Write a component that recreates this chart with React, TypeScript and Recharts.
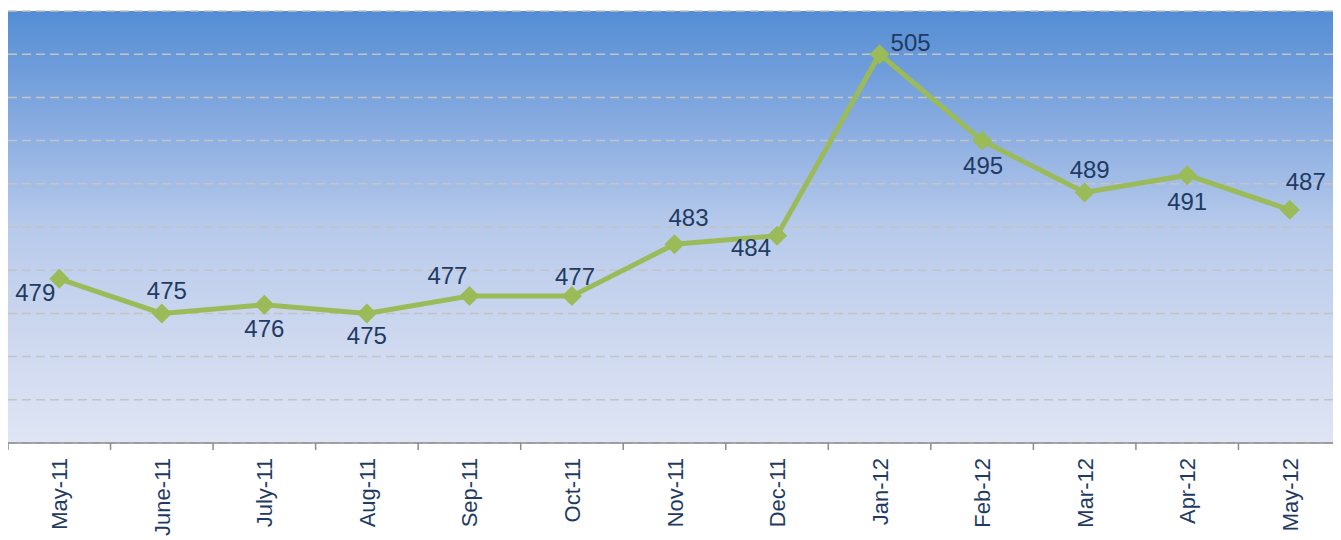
import React from "react";
import { LineChart, Line, XAxis, YAxis, CartesianGrid } from "recharts";

const months = [
  "May-11", "June-11", "July-11", "Aug-11", "Sep-11", "Oct-11", "Nov-11",
  "Dec-11", "Jan-12", "Feb-12", "Mar-12", "Apr-12", "May-12",
];
const values = [479, 475, 476, 475, 477, 477, 483, 484, 505, 495, 489, 491, 487];
const yTicks = [460, 465, 470, 475, 480, 485, 490, 495, 500, 505, 510];

// label nudges relative to each point (rendering config)
const labelDx = [-24, 5, 0, 0, -22, 3, 14, -26, 31, 1, 5, 0, 16];
const labelDy = [14, -23, 24, 22, -21, -20, -27, 12, -12, 25, -23, 26, -28];

const data = months.map((m, i) => ({ month: m, value: values[i] }));

const W = 1333;
const H = 532;
const BAND = W / months.length;
const FONT = "'Liberation Sans', Arial, Helvetica, sans-serif";
const TEXT_COLOR = "#1F3B63";

const Diamond = (props: any) => {
  const { cx, cy, index } = props;
  if (cx == null || cy == null) return null;
  const r = 10;
  return (
    <polygon
      key={`d-${index}`}
      points={`${cx},${cy - r} ${cx + r},${cy} ${cx},${cy + r} ${cx - r},${cy}`}
      fill="#9BBB59"
    />
  );
};

const ValueLabel = (props: any) => {
  const { x, y, value, index } = props;
  return (
    <text
      key={`l-${index}`}
      x={x + labelDx[index]}
      y={y + labelDy[index]}
      textAnchor="middle"
      dominantBaseline="central"
      fontFamily={FONT}
      fontSize={24}
      fill={TEXT_COLOR}
    >
      {value}
    </text>
  );
};

const MonthTick = (props: any) => {
  const { x, y, payload, index } = props;
  const left = x - BAND / 2;
  const right = x + BAND / 2;
  return (
    <g>
      <line x1={left} y1={y} x2={left} y2={y + 7} stroke="#8C8C8C" strokeWidth={1.5} />
      {index === months.length - 1 && (
        <line x1={right} y1={y} x2={right} y2={y + 7} stroke="#8C8C8C" strokeWidth={1.5} />
      )}
      <text
        x={0}
        y={0}
        transform={`translate(${x + 8}, ${y + 15}) rotate(-90)`}
        textAnchor="end"
        fontFamily={FONT}
        fontSize={22}
        fill={TEXT_COLOR}
      >
        {payload.value}
      </text>
    </g>
  );
};

export default function App() {
  return (
    <LineChart
      width={W}
      height={H}
      data={data}
      margin={{ top: 3, right: 0, bottom: 0, left: 0 }}
    >
      <defs>
        <linearGradient id="bgGrad" x1="0" y1="0" x2="0" y2="1">
          <stop offset="0%" stopColor="#548DD4" />
          <stop offset="30%" stopColor="#8FB0E2" />
          <stop offset="50%" stopColor="#B7CAEB" />
          <stop offset="70%" stopColor="#C9D5EE" />
          <stop offset="100%" stopColor="#DFE5F4" />
        </linearGradient>
      </defs>
      <CartesianGrid
        vertical={false}
        stroke="#C4C4C4"
        strokeDasharray="9 5"
        strokeWidth={1.5}
        fill="url(#bgGrad)"
        fillOpacity={1}
      />
      <XAxis
        dataKey="month"
        scale="band"
        interval={0}
        tickLine={false}
        tickSize={0}
        tickMargin={0}
        axisLine={{ stroke: "#8C8C8C", strokeWidth: 1.5 }}
        height={97}
        tick={<MonthTick />}
      />
      <YAxis hide domain={[460, 510]} ticks={yTicks} />
      <Line
        type="linear"
        dataKey="value"
        stroke="#9BBB59"
        strokeWidth={5}
        dot={<Diamond />}
        activeDot={false}
        label={<ValueLabel />}
        isAnimationActive={false}
      />
    </LineChart>
  );
}
